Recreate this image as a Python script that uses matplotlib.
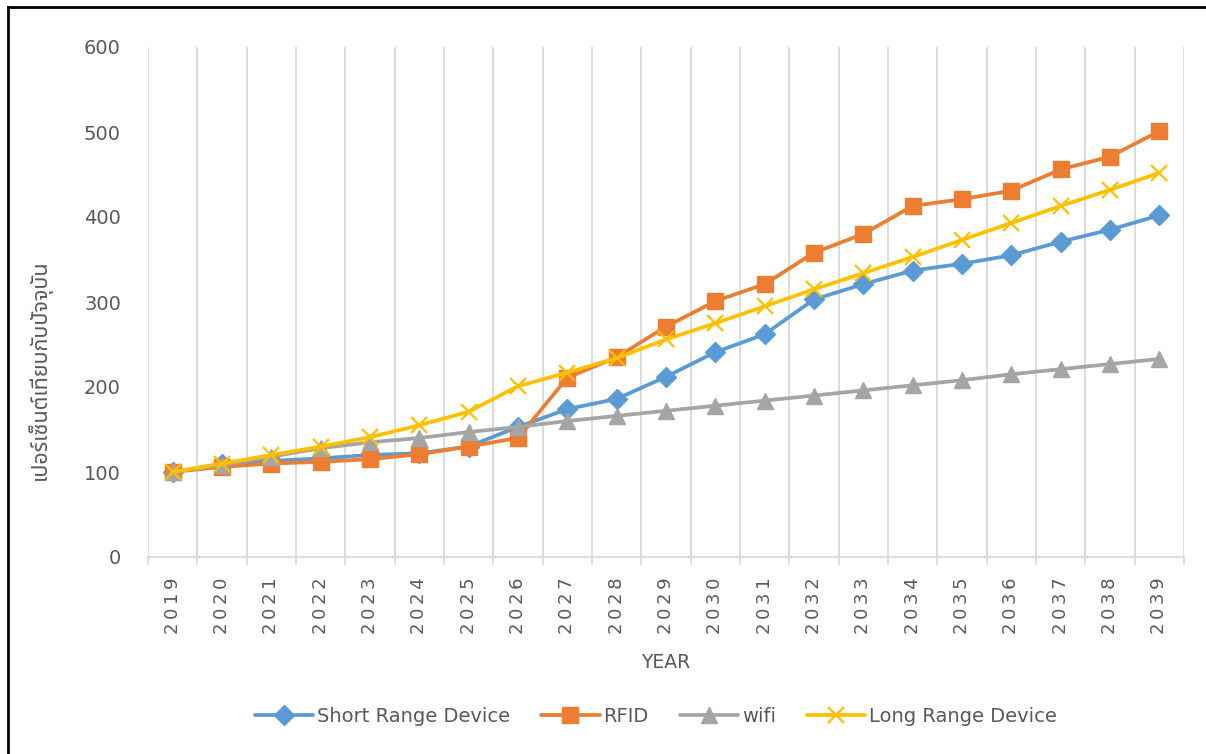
import matplotlib
matplotlib.use("Agg")
import matplotlib.pyplot as plt
from matplotlib.lines import Line2D
import numpy as np

years = [str(y) for y in range(2019, 2040)]

short_range = [100, 109, 113, 116, 120, 122, 130, 153, 174, 186, 212, 241,
               262, 303, 321, 337, 345, 355, 371, 385, 402]
rfid = [100, 106, 110, 112, 115, 121, 130, 140, 211, 235, 271, 301,
        321, 358, 380, 413, 421, 431, 456, 471, 501]
wifi = [100, 108, 118, 128, 135, 140, 147, 153, 160, 166, 172, 178,
        184, 190, 196, 202, 208, 215, 221, 227, 233]
long_range = [100, 110, 120, 130, 141, 155, 171, 201, 217, 234, 256, 275,
              295, 315, 334, 353, 373, 393, 413, 432, 452]

series_names = ["Short Range Device", "RFID", "wifi", "Long Range Device"]
y_ticks = [0, 100, 200, 300, 400, 500, 600]

W, H = 1206, 754
fig = plt.figure(figsize=(W / 100, H / 100), dpi=100)
fig.patch.set_facecolor("white")

# outer frame: top and left edges
fx, fy = 8 / W, 1 - 7 / H
fig.add_artist(Line2D([fx, 1.0], [fy, fy], transform=fig.transFigure,
                      color="black", lw=2, solid_capstyle="projecting"))
fig.add_artist(Line2D([fx, fx], [0.0, fy], transform=fig.transFigure,
                      color="black", lw=2, solid_capstyle="projecting"))

ax = fig.add_axes([148 / W, 1 - 557 / H, (1184 - 148) / W, (557 - 47) / H])
x = np.arange(len(years))

styles = [
    (short_range, "#5B9BD5", "D", 10),
    (rfid, "#ED7D31", "s", 11.5),
    (wifi, "#A5A5A5", "^", 11.5),
    (long_range, "#FFC000", "x", 12),
]
handles = []
for (vals, col, mk, ms), name in zip(styles, series_names):
    mew = 1.6 if mk == "x" else 1
    line, = ax.plot(x, vals, color=col, lw=2.7, marker=mk, ms=ms,
                    markerfacecolor=col, markeredgecolor=col, mew=mew,
                    label=name, zorder=3, solid_capstyle="round")
    handles.append(line)

ax.set_xlim(-0.5, len(years) - 0.5)
ax.set_ylim(0, 600)
ax.set_yticks(y_ticks)
ax.set_yticklabels([str(v) for v in y_ticks])

ax.set_xticks(x)
ax.set_xticklabels(["\u2009".join(y) for y in years], rotation=90)
ax.set_xticks(np.arange(-0.5, len(years)), minor=True)
ax.tick_params(axis="x", which="major", length=0, pad=15,
               labelsize=13, labelcolor="#595959")
ax.tick_params(axis="x", which="minor", length=6, color="#D9D9D9", width=1.2)
ax.tick_params(axis="y", length=0, pad=19.5, labelsize=14, labelcolor="#595959")

ax.grid(True, axis="x", which="minor", color="#D9D9D9", lw=1.3, zorder=0)
ax.grid(False, axis="x", which="major")
ax.grid(False, axis="y")
for side in ["top", "right", "left"]:
    ax.spines[side].set_visible(False)
ax.spines["bottom"].set_color("#D9D9D9")
ax.spines["bottom"].set_linewidth(1.3)

fig.text(666 / W, 1 - 663 / H, "YEAR", ha="center", va="center",
         fontsize=13.5, color="#595959")
fig.text(40 / W, 1 - 370 / H, "เปอร์เซ็นต์เทียบกับปัจจุบัน", rotation=90,
         ha="center", va="center", fontsize=15.5, color="#595959",
         family=["Noto Sans Thai", "Noto Sans", "Tahoma", "DejaVu Sans"])

fig.legend(handles=handles, loc="center", bbox_to_anchor=(656 / W, 1 - 716 / H),
           ncol=4, frameon=False, fontsize=14, labelcolor="#595959",
           handlelength=3, handletextpad=0.2, columnspacing=1.6)

fig.savefig("out.png", dpi=100, facecolor="white")
